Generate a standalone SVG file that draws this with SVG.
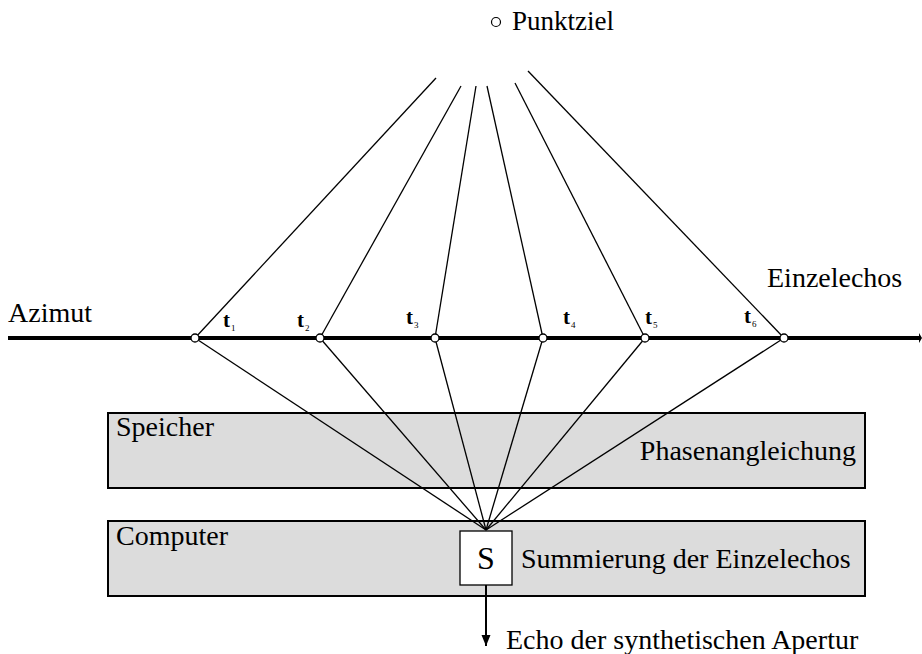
<svg xmlns="http://www.w3.org/2000/svg" width="922" height="654" viewBox="0 0 922 654">
  <defs>
    <style>
      .txt { font-family: "Liberation Serif", "Times New Roman", serif; font-size: 28px; fill: #000; }
      .tl { font-family: "Liberation Serif", "Times New Roman", serif; font-weight: bold; font-size: 21px; fill: #000; }
      .sub { font-family: "Liberation Serif", "Times New Roman", serif; font-size: 9px; fill: #000; }
      .panel { fill: #dcdcdc; stroke: #000; stroke-width: 2; }
      .ray { stroke: #000; stroke-width: 1.3; fill: none; }
      .pt { fill: #fff; stroke: #000; stroke-width: 1.3; }
    </style>
    <marker id="arrow" markerWidth="12" markerHeight="12" refX="11" refY="6" orient="auto" markerUnits="userSpaceOnUse">
      <path d="M0,1.5 L11,6 L0,10.5 Z" fill="#000"/>
    </marker>
  </defs>
  <rect width="922" height="654" fill="#fff"/>

  <!-- target -->
  <g id="punktziel">
    <circle cx="496" cy="22" r="4.5" fill="none" stroke="#000" stroke-width="1.2"/>
    <text class="txt" x="512" y="30" style="font-size:27px">Punktziel</text>
  </g>

  <!-- processing panels -->
  <g id="speicher">
    <rect class="panel" x="108" y="413" width="757" height="75"/>
    <text class="txt" x="116" y="436">Speicher</text>
    <text class="txt" x="856" y="460" text-anchor="end">Phasenangleichung</text>
  </g>
  <g id="computer">
    <rect class="panel" x="108" y="521" width="757" height="75"/>
    <text class="txt" x="116" y="545">Computer</text>
    <text class="txt" x="521" y="568">Summierung der Einzelechos</text>
  </g>
  <g id="summe">
    <rect x="460" y="531" width="52" height="54" fill="#fff" stroke="#000" stroke-width="1.3"/>
    <text class="txt" x="486" y="569" text-anchor="middle" style="font-size:32px">S</text>
  </g>

  <!-- connectors -->
  <g id="connectors">
    <!-- rays towards the target -->
    <line class="ray" x1="195" y1="338" x2="436" y2="78"/>
    <line class="ray" x1="320" y1="338" x2="461" y2="86"/>
    <line class="ray" x1="435" y1="338" x2="476" y2="86"/>
    <line class="ray" x1="543" y1="338" x2="487" y2="86"/>
    <line class="ray" x1="645" y1="338" x2="515" y2="83"/>
    <line class="ray" x1="784" y1="338" x2="528" y2="71"/>
    <!-- rays to the summation -->
    <line class="ray" x1="195" y1="338" x2="486" y2="530"/>
    <line class="ray" x1="320" y1="338" x2="486" y2="530"/>
    <line class="ray" x1="435" y1="338" x2="486" y2="530"/>
    <line class="ray" x1="543" y1="338" x2="486" y2="530"/>
    <line class="ray" x1="645" y1="338" x2="486" y2="530"/>
    <line class="ray" x1="784" y1="338" x2="486" y2="530"/>
    <!-- output -->
    <line x1="486" y1="585" x2="486" y2="646" stroke="#000" stroke-width="2" marker-end="url(#arrow)"/>
  </g>

  <!-- azimuth axis -->
  <g id="azimut">
    <line x1="8" y1="338" x2="920" y2="338" stroke="#000" stroke-width="4"/>
    <path d="M919,333 L922,338 L919,343 Z" fill="#000"/>
    <text class="txt" x="8" y="322">Azimut</text>
    <text class="txt" x="767" y="287">Einzelechos</text>
  </g>

  <!-- echo positions -->
  <g id="positions">
    <circle class="pt" cx="195" cy="338" r="4"/>
    <circle class="pt" cx="320" cy="338" r="4"/>
    <circle class="pt" cx="435" cy="338" r="4"/>
    <circle class="pt" cx="543" cy="338" r="4"/>
    <circle class="pt" cx="645" cy="338" r="4"/>
    <circle class="pt" cx="784" cy="338" r="4"/>
    <text class="tl" x="223" y="327">t</text><text class="sub" x="231" y="331">1</text>
    <text class="tl" x="297" y="327">t</text><text class="sub" x="305" y="331">2</text>
    <text class="tl" x="406" y="324">t</text><text class="sub" x="414" y="328">3</text>
    <text class="tl" x="563" y="324">t</text><text class="sub" x="571" y="328">4</text>
    <text class="tl" x="645" y="324">t</text><text class="sub" x="653" y="328">5</text>
    <text class="tl" x="744" y="323">t</text><text class="sub" x="752" y="327">6</text>
  </g>

  <text class="txt" x="506" y="649">Echo der synthetischen Apertur</text>
</svg>
